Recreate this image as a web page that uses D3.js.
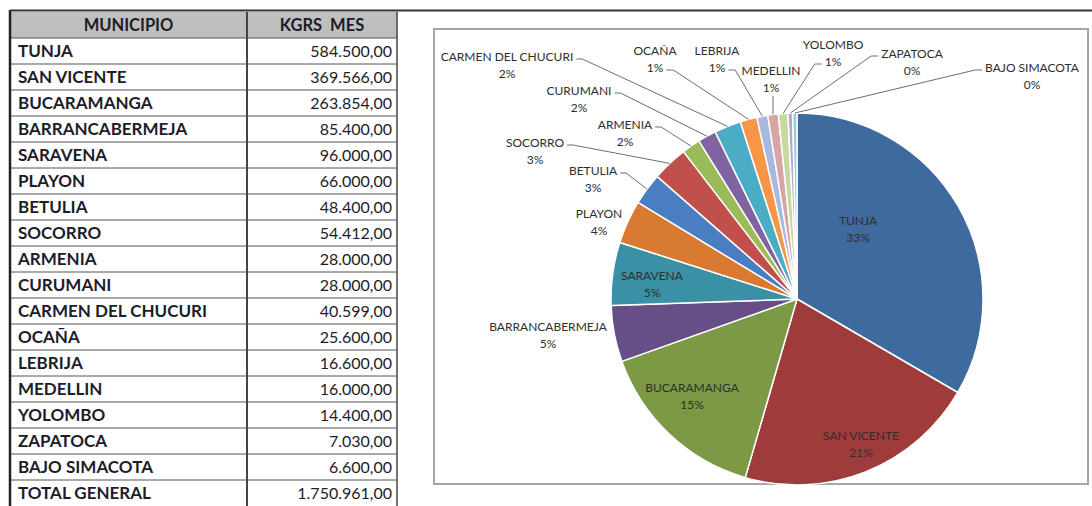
<!DOCTYPE html>
<meta charset="utf-8">
<style>
  body { margin: 0; background: #fff; }
  svg text { font-family: Lato, "Open Sans", sans-serif; }
  .cell { font-size: 16px; fill: #1c1c2a; white-space: pre; }
  .pie-label { font-size: 12px; fill: #2e2e2e; }
</style>
<body>
<script src="https://cdn.jsdelivr.net/npm/d3@7"></script>
<script>

  var width = 1092,
      height = 506;

  var municipios = ["TUNJA", "SAN VICENTE", "BUCARAMANGA", "BARRANCABERMEJA", "SARAVENA",
      "PLAYON", "BETULIA", "SOCORRO", "ARMENIA", "CURUMANI", "CARMEN DEL CHUCURI",
      "OCAÑA", "LEBRIJA", "MEDELLIN", "YOLOMBO", "ZAPATOCA", "BAJO SIMACOTA"];
  var kgrsMes = [584500, 369566, 263854, 85400, 96000, 66000, 48400, 54412, 28000,
      28000, 40599, 25600, 16600, 16000, 14400, 7030, 6600];
  var headers = ["MUNICIPIO", "KGRS  MES"];
  var totalLabel = "TOTAL GENERAL";

  var colors = ["#3f6a9d", "#9e3c3b", "#7c9a45", "#674e86", "#3a90a5", "#d97a33",
      "#4a7ec3", "#c14f4c", "#9bbb59", "#8064a2", "#4bacc6", "#f79646",
      "#a7b9de", "#d9a5a4", "#c5d9a1", "#b5a6ca", "#95cedf"];

  // where the pie labels sit (centre of the name line) and how the leader attaches
  var labelPos = {
    "TUNJA":              {x: 858,  y: 221},
    "SAN VICENTE":        {x: 861,  y: 436},
    "BUCARAMANGA":        {x: 692,  y: 388},
    "BARRANCABERMEJA":    {x: 548,  y: 327},
    "SARAVENA":           {x: 652,  y: 276},
    "PLAYON":             {x: 599,  y: 214},
    "BETULIA":            {x: 593,  y: 171, attach: "name-right"},
    "SOCORRO":            {x: 535,  y: 143, attach: "name-right"},
    "ARMENIA":            {x: 625,  y: 125, attach: "name-right"},
    "CURUMANI":           {x: 579,  y: 91,  attach: "name-right"},
    "CARMEN DEL CHUCURI": {x: 507,  y: 57,  attach: "name-right"},
    "OCAÑA":              {x: 655,  y: 51,  attach: "pct-right"},
    "LEBRIJA":            {x: 717,  y: 51,  attach: "pct-right"},
    "MEDELLIN":           {x: 771,  y: 71,  attach: "bottom"},
    "YOLOMBO":            {x: 833,  y: 45,  attach: "pct-left"},
    "ZAPATOCA":           {x: 912,  y: 54,  attach: "name-left"},
    "BAJO SIMACOTA":      {x: 1032, y: 68,  attach: "name-left"}
  };

  var locale = d3.formatLocale({decimal: ",", thousands: ".", grouping: [3], currency: ["", ""]});
  var fmt = locale.format(",.2f");
  var pct = d3.format(".0%");

  var svg = d3.select("body").append("svg")
      .attr("width", width)
      .attr("height", height);

  // ---------- table ----------
  var tLeft = 10, tRight = 397, colX = 247, headTop = 12, rowH = 26, headH = 26;
  var rows = municipios.map(function(m, i) { return [m, fmt(kgrsMes[i])]; });
  rows.push([totalLabel, fmt(d3.sum(kgrsMes))]);

  var y = d3.scaleBand()
      .domain(d3.range(rows.length))
      .range([headTop + headH, headTop + headH + rowH * rows.length]);

  var table = svg.append("g");

  table.append("rect")
      .attr("x", tLeft).attr("y", headTop)
      .attr("width", tRight - tLeft).attr("height", headH)
      .attr("fill", "#bfbfbf");

  table.selectAll(".rowline")
      .data(d3.range(rows.length))
      .enter().append("line")
      .attr("x1", tLeft).attr("x2", tRight)
      .attr("y1", function(i) { return y(i); })
      .attr("y2", function(i) { return y(i); })
      .attr("stroke", "#555").attr("stroke-width", 1);

  [[headers[0], (tLeft + colX) / 2], [headers[1], (colX + tRight) / 2]].forEach(function(h) {
    table.append("text")
        .attr("class", "cell")
        .attr("x", h[1]).attr("y", headTop + headH / 2)
        .attr("dy", "0.35em").attr("text-anchor", "middle")
        .attr("font-weight", "bold")
        .style("font-size", "16.5px")
        .text(h[0]);
  });

  var row = table.selectAll(".row")
      .data(rows)
      .enter().append("g")
      .attr("transform", function(d, i) { return "translate(0," + (y(i) + rowH / 2) + ")"; });
  row.append("text")
      .attr("class", "cell")
      .attr("x", tLeft + 8).attr("dy", "0.35em")
      .attr("font-weight", "bold")
      .style("font-size", "17px")
      .text(function(d) { return d[0]; });
  row.append("text")
      .attr("class", "cell")
      .attr("x", tRight - 5).attr("dy", "0.35em")
      .attr("text-anchor", "end")
      .text(function(d) { return d[1]; });

  // borders
  table.append("line")
      .attr("x1", colX).attr("x2", colX).attr("y1", headTop).attr("y2", height)
      .attr("stroke", "#444").attr("stroke-width", 2);
  table.append("line")
      .attr("x1", tRight).attr("x2", tRight).attr("y1", headTop).attr("y2", height)
      .attr("stroke", "#444").attr("stroke-width", 1.5);
  table.append("line")
      .attr("x1", tLeft).attr("x2", tLeft).attr("y1", 10).attr("y2", height)
      .attr("stroke", "#222").attr("stroke-width", 2.5);
  svg.append("line")
      .attr("x1", tLeft).attr("x2", width).attr("y1", 10.5).attr("y2", 10.5)
      .attr("stroke", "#333").attr("stroke-width", 2);

  // ---------- chart ----------
  svg.append("rect")
      .attr("x", 434).attr("y", 29)
      .attr("width", 654).attr("height", 455)
      .attr("fill", "none")
      .attr("stroke", "#a6a6a6").attr("stroke-width", 2);

  var cx = 797, cy = 299, r = 186;

  var pie = d3.pie().sort(null).value(function(d) { return d.value; });
  var data = municipios.map(function(m, i) { return {name: m, value: kgrsMes[i]}; });
  var arcs = pie(data);
  var total = d3.sum(kgrsMes);

  var arc = d3.arc().innerRadius(0).outerRadius(r);

  var g = svg.append("g").attr("transform", "translate(" + cx + "," + cy + ")");

  g.selectAll("path")
      .data(arcs)
      .enter().append("path")
      .attr("d", arc)
      .attr("fill", function(d, i) { return colors[i]; })
      .attr("stroke", "#fff")
      .attr("stroke-width", 1.5)
      .attr("stroke-linejoin", "round");

  var labels = svg.append("g");

  arcs.forEach(function(a) {
    var p = labelPos[a.data.name];
    var lg = labels.append("g");
    var nameT = lg.append("text")
        .attr("class", "pie-label")
        .attr("x", p.x).attr("y", p.y)
        .attr("dy", "0.35em").attr("text-anchor", "middle")
        .text(a.data.name);
    var pctT = lg.append("text")
        .attr("class", "pie-label")
        .attr("x", p.x).attr("y", p.y + 17)
        .attr("dy", "0.35em").attr("text-anchor", "middle")
        .text(pct(a.data.value / total));

    if (!p.attach) return;
    var mid = (a.startAngle + a.endAngle) / 2;
    var ex = cx + r * Math.sin(mid),
        ey = cy - r * Math.cos(mid);
    var nw = nameT.node().getComputedTextLength(),
        pw = pctT.node().getComputedTextLength();
    var sx, sy, pts;
    if (p.attach === "name-right") { sx = p.x + nw / 2 + 3; sy = p.y + 2; pts = [[sx, sy], [sx + 6, sy], [ex, ey]]; }
    else if (p.attach === "pct-right") { sx = p.x + pw / 2 + 3; sy = p.y + 19; pts = [[sx, sy], [sx + 7, sy], [ex, ey]]; }
    else if (p.attach === "pct-left") { sx = p.x - pw / 2 - 3; sy = p.y + 19; pts = [[sx, sy], [sx - 7, sy], [ex, ey]]; }
    else if (p.attach === "name-left") { sx = p.x - nw / 2 - 3; sy = p.y + 2; pts = [[sx, sy], [sx - 7, sy], [ex, ey]]; }
    else { sx = ex; sy = p.y + 25; pts = [[sx, sy], [ex, ey]]; }

    labels.append("path")
        .attr("d", d3.line()(pts))
        .attr("fill", "none")
        .attr("stroke", "#6e6e6e")
        .attr("stroke-width", 1);
  });

</script>
